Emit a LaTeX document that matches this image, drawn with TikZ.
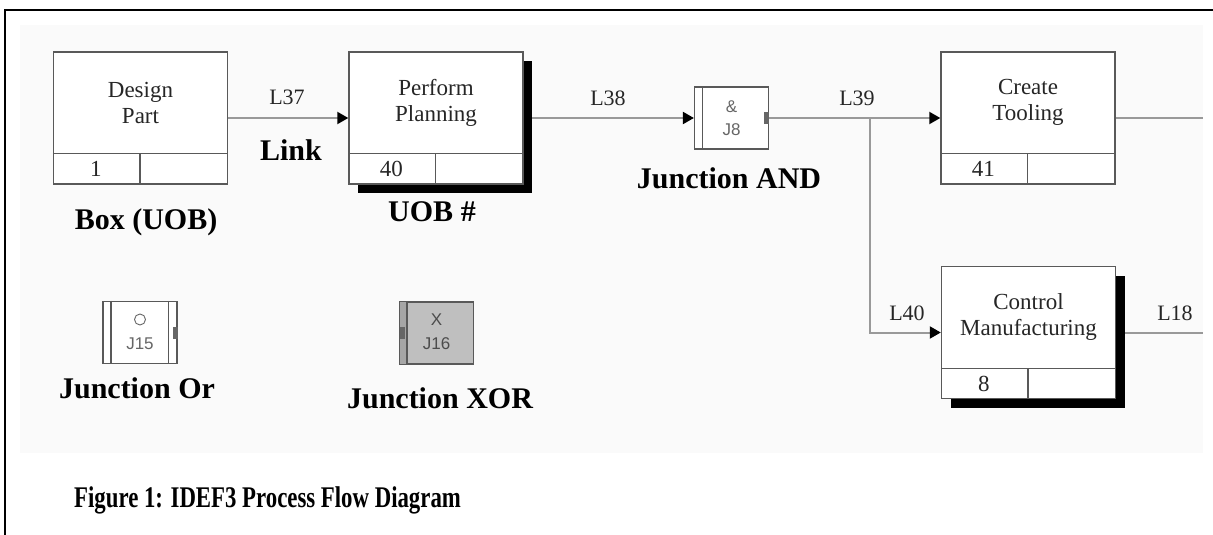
\documentclass[tikz,border=0pt]{standalone}
\usepackage{fontspec}
\setmainfont{Liberation Serif}
\newfontfamily\junctionfont{Liberation Sans}
\usetikzlibrary{arrows.meta,shadows,backgrounds}

% One IDEF3 unit of behaviour: box with a text compartment and a number row
% #1 extra style, #2 name, #3 centre, #4 text, #5 UOB number
\newcommand{\uobunit}[5][]{%
  \node[uobbox,#1] (#2) at (#3) {};
  \draw[cellline] ([yshift=31pt]#2.south west) -- ([yshift=31pt]#2.south east);
  \draw[cellline] ([xshift=87pt]#2.south west) -- ([xshift=87pt,yshift=31pt]#2.south west);
  \node[uobtext] (#2-text) at ([yshift=15.5pt]#2.center) {#4};
  \node[uobtext] (#2-num) at ([xshift=43pt,yshift=15.5pt]#2.south west) {#5};
}

\begin{document}
\begin{tikzpicture}[x=1pt,y=-1pt,
  uobbox/.style={draw=black!65, line width=1.4pt, fill=white,
    minimum width=174pt, minimum height=132pt, inner sep=0pt},
  shadowed/.style={drop shadow={shadow xshift=9pt, shadow yshift=-9pt,
    fill=black, opacity=1}},
  cellline/.style={draw=black!65, line width=1.4pt},
  jbox/.style={draw=black!65, line width=1.2pt, fill=white,
    minimum width=74pt, minimum height=62pt, inner sep=0pt},
  jline/.style={draw=black!65, line width=1.2pt},
  jbar/.style={fill=black!60},
  link/.style={draw=black!40, line width=2pt},
  linkarrow/.style={link, -{Triangle[length=11pt,width=12pt,color=black]}},
  uobtext/.style={font=\fontsize{23}{26}\selectfont, align=center, text=black!85, inner sep=0pt},
  linklabel/.style={font=\fontsize{22}{26}\selectfont, text=black!85, inner sep=0pt},
  notelabel/.style={font=\bfseries\fontsize{30}{34}\selectfont, anchor=base, inner sep=0pt},
  jtext/.style={font=\junctionfont\fontsize{17}{19}\selectfont, text=black!60, inner sep=0pt}
]
\useasboundingbox (0,0) rectangle (1213,535);

% frame
\draw[line width=1.5pt] (5,535) -- (5,10) -- (1213,10);

% units of behaviour
\uobunit{dp}{140.5,118}{Design\\Part}{1}
\uobunit[shadowed]{pp}{436,118}{Perform\\Planning}{40}
\uobunit{ct}{1028,118}{Create\\Tooling}{41}
\uobunit[shadowed]{cm}{1028.5,332.5}{Control\\Manufacturing}{8}

% AND junction
\node[jbox] (j8) at (731.5,118) {};
\draw[jline] ([xshift=8.5pt]j8.north west) -- ([xshift=8.5pt]j8.south west);
\fill[jbar] ([xshift=-5pt,yshift=6pt]j8.east) rectangle ([yshift=-6pt]j8.east);
\node[jtext] (j8-sym) at ([yshift=11pt]j8.center) {\&};
\node[jtext] (j8-id) at ([yshift=-12pt]j8.center) {J8};

% OR junction
\node[jbox] (j15) at (140,332.5) {};
\draw[jline] ([xshift=8.5pt]j15.north west) -- ([xshift=8.5pt]j15.south west);
\draw[jline] ([xshift=-9pt]j15.north east) -- ([xshift=-9pt]j15.south east);
\fill[jbar] ([xshift=-5pt,yshift=6pt]j15.east) rectangle ([yshift=-6pt]j15.east);
\node[draw=black!60, circle, minimum size=11pt, inner sep=0pt, line width=0.9pt]
  (j15-sym) at ([yshift=13pt]j15.center) {};
\node[jtext] (j15-id) at ([yshift=-11pt]j15.center) {J15};

% XOR junction
\node[jbox, fill=black!25] (j16) at (436.5,333) {};
\fill[black!35] ([xshift=0.6pt,yshift=-0.6pt]j16.north west) rectangle ([xshift=8pt,yshift=0.6pt]j16.south west);
\draw[jline] ([xshift=8pt]j16.north west) -- ([xshift=8pt]j16.south west);
\fill[jbar] ([xshift=1pt,yshift=6pt]j16.west) rectangle ([xshift=6pt,yshift=-6pt]j16.west);
\node[jtext, text=black!70] (j16-sym) at ([yshift=13pt]j16.center) {X};
\node[jtext, text=black!70] (j16-id) at ([yshift=-11pt]j16.center) {J16};

% links
\coordinate (br) at (870,118);
\coordinate (ct-out) at (1203,118);
\coordinate (cm-out) at (1203,332.5);
\begin{scope}[on background layer]
  \fill[black!2] (20,25) rectangle (1203,453);
  \draw[linkarrow] (dp.east) -- (pp.west);
  \draw[linkarrow] (pp.east) -- (j8.west);
  \draw[linkarrow] (j8.east) -- (ct.west);
  \draw[linkarrow] (br) |- (cm.west);
  \draw[link] (ct.east) -- (ct-out);
  \draw[link] (cm.east) -- (cm-out);
\end{scope}

% link names
\node[linklabel] (l37) at (287,97) {L37};
\node[linklabel] (l38) at (608,98) {L38};
\node[linklabel] (l39) at (857,98) {L39};
\node[linklabel] (l40) at (907,313) {L40};
\node[linklabel] (l18) at (1175,313) {L18};

% element names
\node[notelabel] (n-box) at (146,229) {Box (UOB)};
\node[notelabel] (n-link) at (291,160) {Link};
\node[notelabel] (n-uob) at (432,221) {UOB \#};
\node[notelabel] (n-and) at (729,188) {Junction AND};
\node[notelabel] (n-or) at (137,398) {Junction Or};
\node[notelabel] (n-xor) at (440,408) {Junction XOR};

% caption, set in a narrow bold face
\node[notelabel, anchor=base west] (caption) at (74,507)
  {\scalebox{0.76}[1]{Figure 1: IDEF3 Process Flow Diagram}};
\end{tikzpicture}
\end{document}
